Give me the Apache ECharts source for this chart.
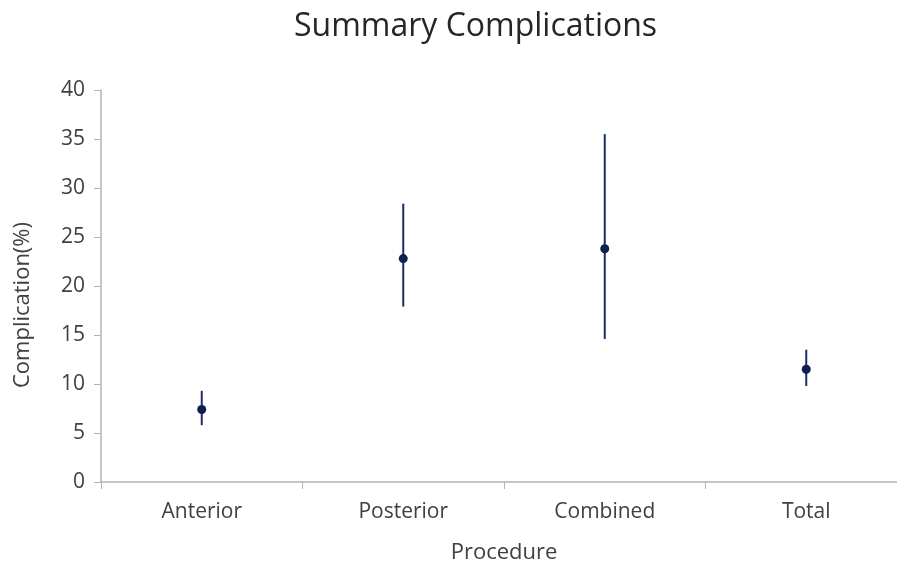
<!DOCTYPE html>
<html>
<head>
<meta charset="utf-8">
<script src="https://cdn.jsdelivr.net/npm/echarts@6/dist/echarts.min.js"></script>
<style>
  html, body { margin: 0; padding: 0; background: #fff; }
  #chart { width: 897px; height: 562px; }
</style>
</head>
<body>
<div id="chart"></div>
<script>
// procedure groups
const categories = ['Anterior', 'Posterior', 'Combined', 'Total']
// complication rate (%), with lower / upper limits
const means = [7.4, 22.8, 23.8, 11.5]
const lows = [5.8, 17.9, 14.6, 9.8]
const highs = [9.3, 28.4, 35.5, 13.5]

const fontName = '"Open Sans", sans-serif'
const barColor = '#1b2a6b'

const chart = echarts.init(document.getElementById('chart'))

const errData = categories.map((c, i) => [i, lows[i], highs[i]])

const option = {
  animation: false,
  title: {
    text: 'Summary Complications',
    left: 289,
    top: 6,
    textStyle: { fontFamily: fontName, fontSize: 32, fontWeight: 'normal', color: '#262626' }
  },
  grid: { left: 101, right: -10, top: 90, bottom: 80, outerBoundsMode: 'none', containLabel: false },
  xAxis: {
    type: 'category',
    data: categories,
    name: 'Procedure',
    nameLocation: 'middle',
    nameGap: 60,
    nameTextStyle: { fontFamily: fontName, fontSize: 22, color: '#404040' },
    axisLine: { lineStyle: { color: '#b3b3b3', width: 1.5 } },
    axisTick: { show: true, length: 7, lineStyle: { color: '#b3b3b3' } },
    axisLabel: { fontFamily: fontName, fontSize: 21, color: '#404040', margin: 20 }
  },
  yAxis: {
    type: 'value',
    min: 0,
    max: 40,
    interval: 5,
    name: 'Complication(%)',
    nameLocation: 'middle',
    nameGap: 67,
    nameTextStyle: { fontFamily: fontName, fontSize: 22, color: '#404040', padding: [0, 38, 0, 0] },
    axisLine: { show: true, lineStyle: { color: '#b3b3b3', width: 1.5 } },
    axisTick: { show: true, length: 7, lineStyle: { color: '#b3b3b3' } },
    axisLabel: { fontFamily: fontName, fontSize: 21, color: '#404040', margin: 16 },
    splitLine: { show: false }
  },
  series: [
    {
      type: 'custom',
      data: errData,
      renderItem: function (params, api) {
        const x = api.value(0)
        const lo = api.coord([x, api.value(1)])
        const hi = api.coord([x, api.value(2)])
        return {
          type: 'line',
          shape: { x1: lo[0], y1: lo[1], x2: hi[0], y2: hi[1] },
          style: { stroke: barColor, lineWidth: 2 }
        }
      },
      z: 2
    },
    {
      type: 'scatter',
      data: means,
      symbol: 'circle',
      symbolSize: 9,
      itemStyle: { color: '#0f2050', opacity: 1 },
      z: 3
    }
  ]
}

chart.setOption(option)
</script>
</body>
</html>
